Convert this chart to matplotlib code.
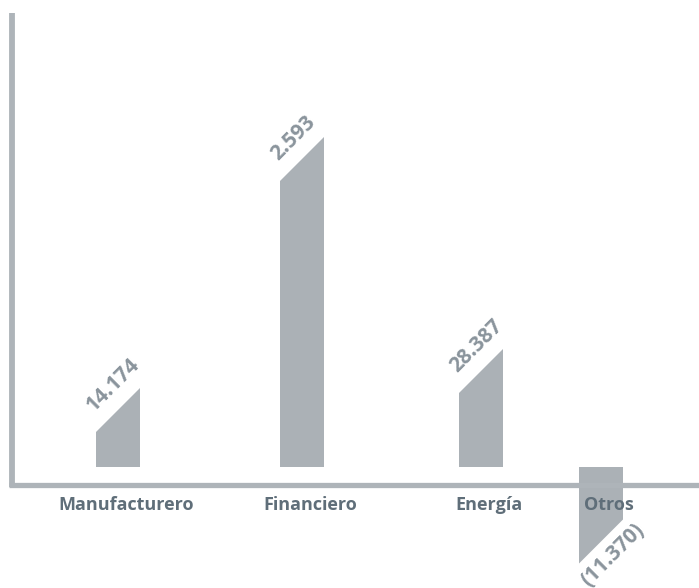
import matplotlib.pyplot as plt
import numpy as np

categories = ['Manufacturero', 'Financiero', 'Energía', 'Otros']
value_labels = ['14.174', '2.593', '28.387', '(11.370)']
heights = [57, 308, 96, -74.5]   # bar height at the middle of the slanted end

bar_x = [118, 302, 481, 601]     # layout: bar centres
bar_w = 44
rise = 22                         # half of the 45 degree cut

bar_color = '#abb1b6'
axis_color = '#aeb4b9'
cat_color = '#5f6e79'
val_color = '#8a949c'

plt.rcParams['font.family'] = ['Open Sans', 'DejaVu Sans']

fig = plt.figure(figsize=(6.99, 5.88), dpi=100)
ax = fig.add_axes([0, 0, 1, 1])
ax.set_xlim(0, 699)
ax.set_ylim(-121, 467)
ax.axis('off')

# axis frame lines
ax.plot([12, 12], [-20, 454], color=axis_color, lw=4.2, solid_capstyle='butt')
ax.plot([9, 699], [-17.5, -17.5], color=axis_color, lw=3.8, solid_capstyle='butt')

for cx, h, cat, lab in zip(bar_x, heights, categories, value_labels):
    xs = [cx - bar_w / 2, cx + bar_w / 2, cx + bar_w / 2, cx - bar_w / 2]
    ys = [0, 0, h + rise, h - rise]
    ax.fill(xs, ys, color=bar_color, lw=0)

    if h >= 0:
        ax.annotate(lab, xy=(cx, h), xytext=(-28 * 0.72, 2 * 0.72),
                    textcoords='offset points', rotation=45,
                    rotation_mode='anchor', ha='left', va='center',
                    fontsize=15, fontweight='bold', color=val_color)
    else:
        ax.annotate(lab, xy=(cx, h), xytext=(12 * 0.72, -14 * 0.72),
                    textcoords='offset points', rotation=45,
                    rotation_mode='anchor', ha='center', va='center',
                    fontsize=15, fontweight='bold', color=val_color)

    ax.text(cx + 8, -43, cat, ha='center', va='baseline',
            fontsize=13, fontweight='bold', color=cat_color)

fig.savefig('out.png', dpi=100)
